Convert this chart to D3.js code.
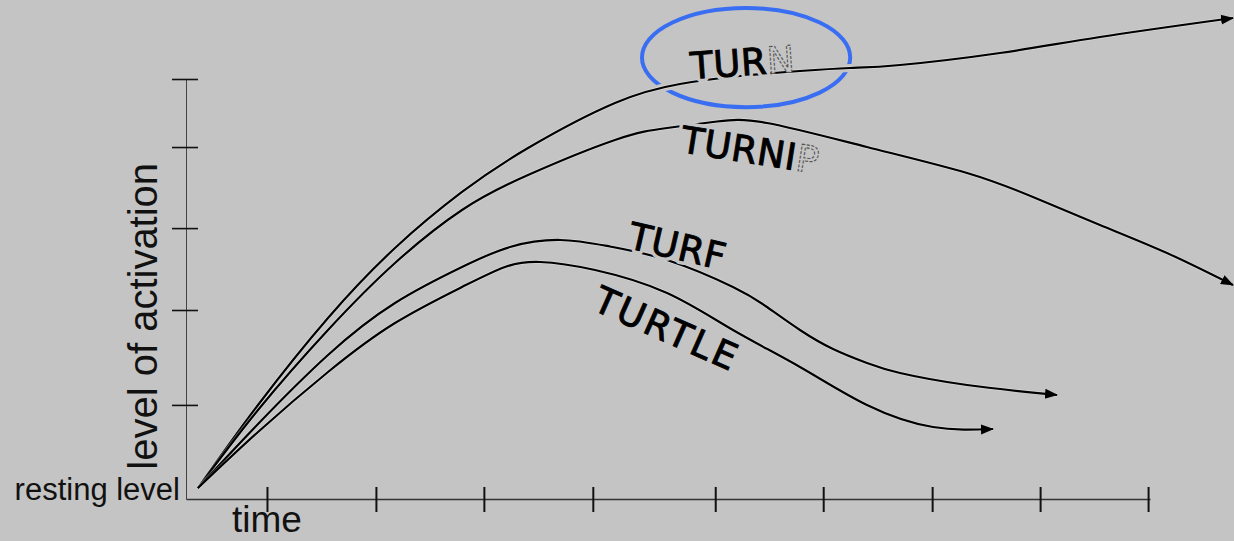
<!DOCTYPE html>
<html>
<head>
<meta charset="utf-8">
<script src="https://cdn.jsdelivr.net/npm/d3@7"></script>
<style>
  html, body { margin: 0; padding: 0; background: #c4c4c4; }
  svg { display: block; }
</style>
</head>
<body>
<div id="chart"></div>
<script>
(function () {
    // time ticks and activation ticks
    var xTicks = [8.4, 19.7, 30.9, 42.2, 54.9, 66.1, 77.4, 88.6, 99.8];
    var yTicks = [22.4, 45.0, 64.5, 83.8, 100];

    // activation curves, [time, activation]
    var turnPts = [[1.24, 2.62], [7.47, 22.38], [14.73, 43.1], [21.68, 59.76], [28.63, 73.1],
        [35.48, 83.57], [44.5, 94.29], [51.24, 98.81], [57.47, 100.71], [63.69, 101.9],
        [68.88, 102.62], [74.07, 103.33], [84.44, 106.19], [94.81, 110.0], [108.61, 114.52]];
    var turnipPts = [[1.24, 2.62], [7.47, 21.19], [14.73, 40.24], [21.68, 56.19], [28.63, 68.81],
        [35.48, 77.14], [44.5, 85.48], [49.9, 88.33], [55.08, 89.88], [60.27, 89.52],
        [70.64, 83.81], [81.02, 77.62], [87.86, 71.9], [94.81, 65.24], [101.76, 58.57], [108.61, 50.95]];
    var turfPts = [[1.24, 2.62], [7.47, 17.86], [14.73, 34.29], [21.68, 46.67], [28.63, 55.24],
        [33.61, 60.0], [38.8, 61.67], [43.98, 60.12], [49.9, 56.9], [56.74, 50.48],
        [60.27, 45.71], [63.69, 40.24], [67.12, 35.71], [70.64, 32.38], [74.07, 30.0],
        [81.02, 27.14], [90.35, 24.76]];
    var turtlePts = [[1.24, 2.62], [7.47, 15.95], [14.73, 30.24], [21.68, 41.9], [28.63, 50.48],
        [33.09, 55.24], [36.72, 56.43], [42.43, 54.52], [49.9, 49.05], [56.74, 40.24],
        [63.69, 31.43], [70.64, 22.38], [77.49, 17.14], [83.71, 16.67]];

    var words = ["TURN", "TURNIP", "TURF", "TURTLE"];
    var ghostLetters = ["N", "P", "", ""];

    var width = 1234, height = 541;
    var bg = "#c4c4c4";

    var x = d3.scaleLinear().domain([0, 100]).range([186, 1150]);
    var y = d3.scaleLinear().domain([0, 100]).range([499, 79]);

    var svg = d3.select("#chart").append("svg")
        .attr("width", width)
        .attr("height", height)
        .attr("xmlns", "http://www.w3.org/2000/svg");

    svg.append("rect").attr("width", width).attr("height", height).attr("fill", bg);

    svg.append("defs").append("marker")
        .attr("id", "arrow")
        .attr("markerUnits", "userSpaceOnUse")
        .attr("viewBox", "0 -6 13 12")
        .attr("refX", 12)
        .attr("refY", 0)
        .attr("markerWidth", 13)
        .attr("markerHeight", 12)
        .attr("orient", "auto")
        .append("path")
        .attr("d", "M0,-5L13,0L0,5Z")
        .attr("fill", "#000");

    // axes
    var yAxis = svg.append("g")
        .attr("transform", "translate(" + x(0) + ",0)")
        .call(d3.axisLeft(y).tickValues(yTicks).tickSize(14).tickSizeOuter(0).tickFormat(""));
    yAxis.selectAll(".tick line").attr("x1", 12).attr("stroke", "#111").attr("stroke-width", 1.6);
    yAxis.select(".domain").attr("stroke", "#444").attr("stroke-width", 1);

    var xAxis = svg.append("g")
        .attr("transform", "translate(0," + y(0) + ")")
        .call(d3.axisBottom(x).tickValues(xTicks).tickSize(13).tickSizeOuter(0).tickFormat(""));
    xAxis.selectAll(".tick line").attr("y1", -12).attr("stroke", "#111").attr("stroke-width", 2);
    xAxis.select(".domain").attr("stroke", "#333").attr("stroke-width", 1.3);

    svg.append("text")
        .attr("transform", "translate(157," + y(43.5) + ") rotate(-90)")
        .attr("text-anchor", "middle")
        .attr("font-family", "Liberation Sans, Arial, sans-serif")
        .attr("font-size", 40)
        .attr("fill", "#111")
        .text("level of activation");

    svg.append("text")
        .attr("x", x(0) - 6)
        .attr("y", y(0) + 1)
        .attr("text-anchor", "end")
        .attr("font-family", "Liberation Sans, Arial, sans-serif")
        .attr("font-size", 31)
        .attr("fill", "#111")
        .text("resting level");

    svg.append("text")
        .attr("x", x(xTicks[0]))
        .attr("y", y(0) + 33)
        .attr("text-anchor", "middle")
        .attr("font-family", "Liberation Sans, Arial, sans-serif")
        .attr("font-size", 37)
        .attr("fill", "#111")
        .text("time");

    // highlight ellipse round TURN
    svg.append("ellipse")
        .attr("cx", x(58.1))
        .attr("cy", y(105.1))
        .attr("rx", x(10.8) - x(0))
        .attr("ry", y(0) - y(11.8))
        .attr("fill", "none")
        .attr("stroke", "#3a6ef2")
        .attr("stroke-width", 4);

    var line = d3.line()
        .x(function (d) { return x(d[0]); })
        .y(function (d) { return y(d[1]); })
        .curve(d3.curveNatural);

    var series = [turnPts, turnipPts, turfPts, turtlePts];

    // gap where TURN crosses the ellipse
    svg.append("path")
        .attr("d", line(turnPts))
        .attr("fill", "none")
        .attr("stroke", bg)
        .attr("stroke-width", 8);

    series.forEach(function (pts) {
        svg.append("path")
            .attr("d", line(pts))
            .attr("fill", "none")
            .attr("stroke", "#fff")
            .attr("stroke-opacity", 0.35)
            .attr("stroke-width", 3.6);
        svg.append("path")
            .attr("d", line(pts))
            .attr("fill", "none")
            .attr("stroke", "#000")
            .attr("stroke-width", 2.2)
            .attr("marker-end", "url(#arrow)");
    });

    // word labels along the curves: [time, activation, angle, letter spacing]
    var labelPos = [[52.4, 100.0, -4, 0.5], [51.2, 82.6, 9, 0.5], [45.7, 59.8, 13, 0.5], [42.0, 45.2, 24, 2.6]];

    function addLabel(i, halo) {
        var p = labelPos[i];
        var w = words[i];
        var ghost = ghostLetters[i];
        var solid = ghost ? w.slice(0, w.length - ghost.length) : w;
        var t = svg.append("text")
            .attr("transform", "translate(" + x(p[0]) + "," + y(p[1]) + ") rotate(" + p[2] + ")")
            .attr("font-family", "DejaVu Sans, Verdana, sans-serif")
            .attr("font-size", 37)
            .attr("letter-spacing", p[3]);
        if (halo) {
            t.append("tspan")
                .attr("fill", bg)
                .attr("stroke", bg)
                .attr("stroke-width", 8)
                .attr("stroke-linejoin", "round")
                .text(solid);
            return;
        }
        t.append("tspan")
            .attr("fill", "#000")
            .attr("stroke", "#000")
            .attr("stroke-width", 0.9)
            .text(solid);
        if (ghost) {
            t.append("tspan")
                .attr("fill", bg)
                .attr("stroke", "#555")
                .attr("stroke-width", 1.1)
                .attr("stroke-dasharray", "3 1.5")
                .text(ghost);
        }
    }

    words.forEach(function (w, i) { addLabel(i, true); });
    words.forEach(function (w, i) { addLabel(i, false); });
})();
</script>
</body>
</html>
